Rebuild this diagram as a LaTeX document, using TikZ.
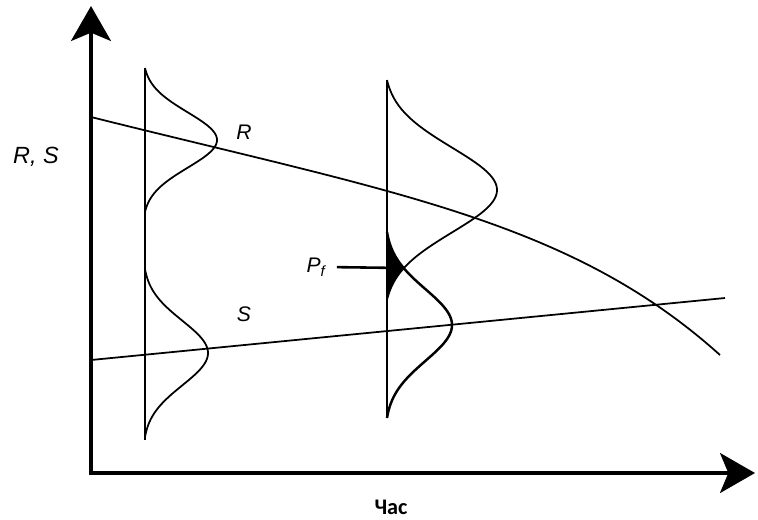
\documentclass[tikz,border=0pt]{standalone}
\usepackage{fontspec}
\setmainfont{Liberation Sans}
\newfontfamily\axisfont{Carlito}
\usetikzlibrary{arrows.meta}

\begin{document}
\begin{tikzpicture}[x=0.03cm, y=-0.03cm,
  >={Stealth[length=1.05cm, width=1.2cm, inset=0.25cm]},
  ax/.style={line width=2.6pt, line join=miter},
  crv/.style={line width=1.5pt},
  lbl/.style={font=\fontsize{18}{21}\selectfont\itshape, inner sep=1pt}]

  \useasboundingbox (0,0) rectangle (758,519);

  \coordinate (ytop) at (91,6);
  \coordinate (orig) at (91,473);
  \coordinate (xend) at (755,473);
  \draw[ax,<->] (ytop) -- (orig) -- (xend);

  \node[lbl, font=\fontsize{20}{23}\selectfont\itshape] (rs) at (36,157) {R, S};
  \node[font=\fontsize{19}{22}\selectfont\axisfont\bfseries] (time) at (391,507) {Час};

  \draw[crv] (91,117) .. controls (391,192) and (570,220) .. (720,355);
  \draw[crv] (91,360) -- (725,298);
  \node[lbl] (rlab) at (244,132) {R};
  \node[lbl] (slab) at (244,314) {S};

  \draw[crv] (145,68) -- (145,440);
  \draw[crv] (387,80) -- (387,418);

  \foreach \xo/\mu/\amp/\ss/\lo/\hi/\lw in {145/140/72/1534/68/212/1.5,
      145/353/63/2087/270/437/1.5, 387/190/110/3580/80/300/1.5,
      387/325/65/2562/232/418/2.1}
    \draw[line width=\lw pt] plot[domain=\lo:\hi, samples=90, smooth]
      ({\xo+\amp*max(0,(exp(-((\x-\mu)*(\x-\mu))/\ss)-0.034)/0.966)}, {\x});

  \fill (387,232)
    -- plot[domain=232:268, samples=30]
       ({387+65*max(0,(exp(-((\x-325)*(\x-325))/2562)-0.034)/0.966)}, {\x})
    -- plot[domain=268:300, samples=30]
       ({387+110*max(0,(exp(-((\x-190)*(\x-190))/3580)-0.034)/0.966)}, {\x})
    -- cycle;

  \coordinate (pfpt) at (401,268);
  \node[lbl] (pf) at (316,267) {P\textsubscript{\itshape f}};
  \draw[line width=2.2pt, shorten <=0.3cm] (pf.east) -- (pfpt);

\end{tikzpicture}
\end{document}
